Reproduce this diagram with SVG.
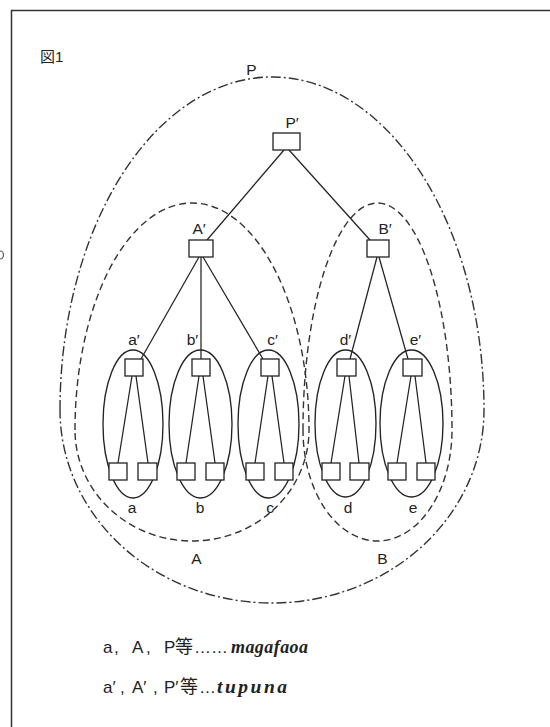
<svg xmlns="http://www.w3.org/2000/svg" width="550" height="727" viewBox="0 0 550 727">
  <style>
    .frame{fill:none;stroke:#333;stroke-width:1.5}
    .box{fill:#fff;stroke:#222;stroke-width:1.3}
    .edge{fill:none;stroke:#222;stroke-width:1.25}
    .kin{fill:none;stroke:#222;stroke-width:1.35}
    .dash{fill:none;stroke:#333;stroke-width:1.4;stroke-dasharray:7 4}
    .dashdot{fill:none;stroke:#333;stroke-width:1.4;stroke-dasharray:10 3 2 3}
    .lbl{font-family:"Liberation Sans",Arial,sans-serif;font-size:15.5px;fill:#222;text-anchor:middle}
    .cap{font-family:"Liberation Sans","Noto Sans CJK JP",sans-serif;font-size:15px;fill:#222}
    .leg{font-family:"Liberation Sans","Noto Sans CJK JP",sans-serif;font-size:17px;fill:#222}
    .cjk{font-family:"Noto Sans CJK JP",sans-serif;font-size:18px}
    .term{font-family:"Liberation Serif","Times New Roman",serif;font-style:italic;font-weight:bold;fill:#222}
  </style>

  <!-- page frame -->
  <g id="frame">
    <path class="frame" d="M11.5,727 V10.5 H550"/>
    <path fill="none" stroke="#555" stroke-width="1.2" d="M0,251 A3.5,4 0 0 1 0,259"/>
  </g>

  <text class="cap" x="40" y="62">図1</text>

  <!-- kin groupings -->
  <g id="group-P">
    <path class="dashdot" d="M60,410 A212,333 0 0 1 484,410 A212,193 0 0 1 60,410 Z"/>
    <text class="lbl" x="251.5" y="75">P</text>
  </g>
  <g id="group-A">
    <path class="dash" d="M75,430 A117,227 0 0 1 309,430 A117,111 0 0 1 75,430 Z"/>
    <text class="lbl" x="196.5" y="564">A</text>
  </g>
  <g id="group-B">
    <path class="dash" d="M303,430 A74.5,227 0 0 1 452,430 A74.5,111 0 0 1 303,430 Z"/>
    <text class="lbl" x="382.5" y="564">B</text>
  </g>
  <g id="group-a">
    <ellipse class="kin" cx="133" cy="424" rx="30" ry="74"/>
    <text class="lbl" x="132" y="513">a</text>
  </g>
  <g id="group-b">
    <ellipse class="kin" cx="200.5" cy="424" rx="31.5" ry="74"/>
    <text class="lbl" x="200" y="513">b</text>
  </g>
  <g id="group-c">
    <ellipse class="kin" cx="268.5" cy="424" rx="30.5" ry="74"/>
    <text class="lbl" x="270" y="513">c</text>
  </g>
  <g id="group-d">
    <ellipse class="kin" cx="345.5" cy="423.5" rx="30.5" ry="73.5"/>
    <text class="lbl" x="348" y="513">d</text>
  </g>
  <g id="group-e">
    <ellipse class="kin" cx="411.5" cy="423.5" rx="31.5" ry="73.5"/>
    <text class="lbl" x="413" y="513">e</text>
  </g>

  <!-- descent lines -->
  <g id="connectors">
    <path class="edge" d="M284,150 L207,240"/>
    <path class="edge" d="M289,150 L370,240"/>
    <path class="edge" d="M199,257 L141,359"/>
    <path class="edge" d="M201,257 L201,359"/>
    <path class="edge" d="M203,257 L263,359"/>
    <path class="edge" d="M377,257 L350,359"/>
    <path class="edge" d="M379,257 L408,359"/>
    <path class="edge" d="M132,376 L118,463 M136,376 L148,463"/>
    <path class="edge" d="M199,376 L186,463 M203,376 L215,463"/>
    <path class="edge" d="M268,376 L255,463 M272,376 L284,463"/>
    <path class="edge" d="M345,376 L331,463 M349,376 L359,463"/>
    <path class="edge" d="M411,376 L397,463 M415,376 L426,463"/>
  </g>

  <!-- ancestors -->
  <g id="node-P1">
    <rect class="box" x="273" y="133" width="27" height="17"/>
    <text class="lbl" x="292" y="128">P′</text>
  </g>
  <g id="node-A1">
    <rect class="box" x="189" y="240" width="24" height="17"/>
    <text class="lbl" x="199" y="234">A′</text>
  </g>
  <g id="node-B1">
    <rect class="box" x="367" y="240" width="22" height="17"/>
    <text class="lbl" x="385" y="234">B′</text>
  </g>
  <g id="node-a1">
    <rect class="box" x="125" y="359" width="18" height="17"/>
    <text class="lbl" x="134" y="345">a′</text>
  </g>
  <g id="node-b1">
    <rect class="box" x="192" y="359" width="18" height="17"/>
    <text class="lbl" x="192.5" y="345">b′</text>
  </g>
  <g id="node-c1">
    <rect class="box" x="261" y="359" width="18" height="17"/>
    <text class="lbl" x="272.5" y="345">c′</text>
  </g>
  <g id="node-d1">
    <rect class="box" x="337" y="359" width="19" height="17"/>
    <text class="lbl" x="345.5" y="345">d′</text>
  </g>
  <g id="node-e1">
    <rect class="box" x="403" y="359" width="19" height="17"/>
    <text class="lbl" x="415.5" y="345">e′</text>
  </g>

  <!-- members -->
  <g id="node-a-1"><rect class="box" x="109" y="463" width="18" height="17"/></g>
  <g id="node-a-2"><rect class="box" x="138" y="463" width="19" height="17"/></g>
  <g id="node-b-1"><rect class="box" x="177" y="463" width="18" height="17"/></g>
  <g id="node-b-2"><rect class="box" x="206" y="463" width="18" height="17"/></g>
  <g id="node-c-1"><rect class="box" x="246" y="463" width="18" height="17"/></g>
  <g id="node-c-2"><rect class="box" x="275" y="463" width="18" height="17"/></g>
  <g id="node-d-1"><rect class="box" x="322" y="463" width="18" height="17"/></g>
  <g id="node-d-2"><rect class="box" x="350" y="463" width="19" height="17"/></g>
  <g id="node-e-1"><rect class="box" x="388" y="463" width="18" height="17"/></g>
  <g id="node-e-2"><rect class="box" x="417" y="463" width="18" height="17"/></g>

  <!-- legend -->
  <g id="legend">
    <text class="leg" y="653"><tspan x="103">a</tspan><tspan x="114">,</tspan><tspan x="132">A</tspan><tspan x="146">,</tspan><tspan x="164">P</tspan><tspan x="175" class="cjk">等</tspan><tspan x="194">……</tspan></text>
    <text class="term" x="231" y="653" font-size="18" textLength="77" lengthAdjust="spacing">magafaoa</text>
    <text class="leg" y="693"><tspan x="103">a′</tspan><tspan x="120">,</tspan><tspan x="132">A′</tspan><tspan x="153">,</tspan><tspan x="164">P′</tspan><tspan x="180" class="cjk">等</tspan><tspan x="199">…</tspan></text>
    <text class="term" x="217" y="693" font-size="19.5" textLength="70" lengthAdjust="spacing">tupuna</text>
  </g>
</svg>
